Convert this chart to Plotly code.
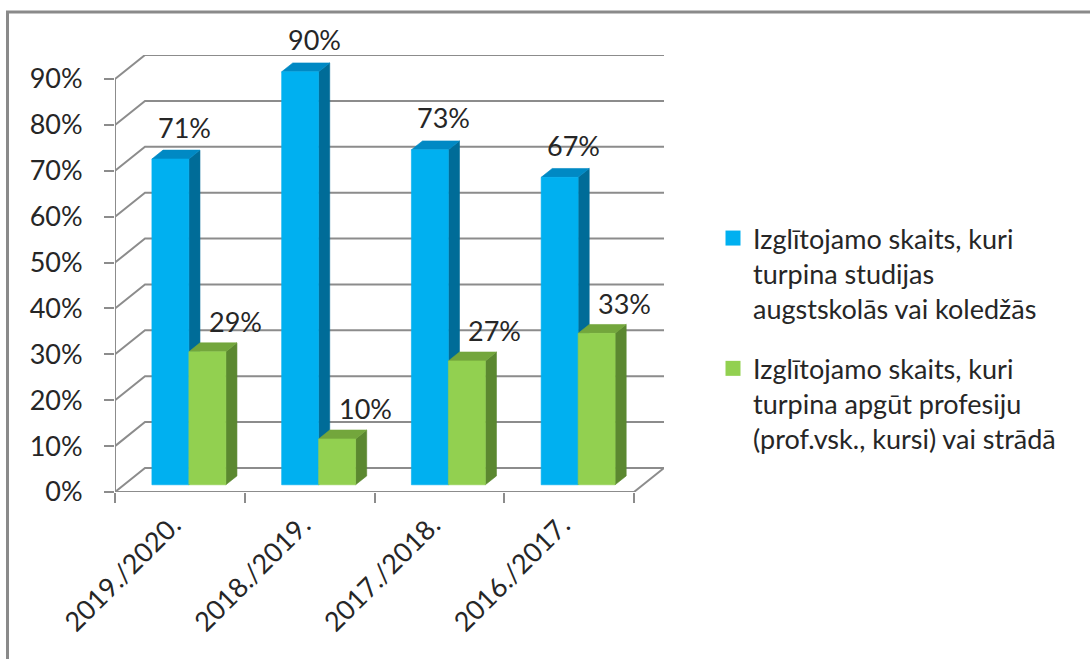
import plotly.graph_objects as go

# ---------------- data ----------------
categories = ["2019./2020.", "2018./2019.", "2017./2018.", "2016./2017."]
studies = [0.71, 0.90, 0.73, 0.67]          # Izglītojamo skaits, kuri turpina studijas ...
profession = [0.29, 0.10, 0.27, 0.33]       # Izglītojamo skaits, kuri turpina apgūt profesiju ...
series_names = [
    "Izglītojamo skaits, kuri<br>turpina studijas<br>augstskolās vai koledžās",
    "Izglītojamo skaits, kuri<br>turpina apgūt profesiju<br>(prof.vsk., kursi) vai strādā",
]
y_tick_vals = [0.0, 0.1, 0.2, 0.3, 0.4, 0.5, 0.6, 0.7, 0.8, 0.9]
y_tick_text = ["0%", "10%", "20%", "30%", "40%", "50%", "60%", "70%", "80%", "90%"]

# ---------------- style / geometry ----------------
W, H = 1090, 659
FONT = "Lato"
TXT = "#262626"
GRID = "#8c8c8c"
FS = 27
PX_CAT = 129.75            # pixels per category
PX_UNIT = 458.5            # pixels per 100 %
DX_PX, DY_PX = 30, 24      # 3-D depth offset of the back wall
DX, DY = DX_PX / PX_CAT, DY_PX / PX_UNIT
F0, F1 = 0.30, 0.67        # depth slice occupied by the bars
BW = 0.285                 # bar width (category units)
ML, MB = 115, 167
plot_w = (4 + DX) * PX_CAT
plot_h = 0.9 * PX_UNIT + DY_PX
MR = W - ML - plot_w
MT = H - MB - plot_h

colors = [
    dict(front="#00B0F0", top="#0089C4", side="#006C98"),
    dict(front="#92D050", top="#73A63C", side="#5B8830"),
]

n = len(categories)
xs = list(range(n))

fig = go.Figure()

# ---- grid (back wall + left wall diagonals) ----
gx, gy = [], []
for v in y_tick_vals:
    gx += [-0.5, -0.5 + DX, n - 0.5 + DX, None]
    gy += [v, v + DY, v + DY, None]
# floor right edge, front base line, front vertical axis
gx += [n - 0.5, n - 0.5 + DX, None, -0.5, n - 0.5, None, -0.5, -0.5, None]
gy += [0, DY, None, 0, 0, None, 0, y_tick_vals[-1], None]
fig.add_trace(go.Scatter(x=gx, y=gy, mode="lines", line=dict(color=GRID, width=2),
                         hoverinfo="skip", showlegend=False, cliponaxis=False))

# ---- 3-D bars ----
sx, sy = F0 * DX, F0 * DY
ex, ey = (F1 - F0) * DX, (F1 - F0) * DY


def add_poly(polys, color):
    px_, py_ = [], []
    for p in polys:
        for (a, b) in p:
            px_.append(a)
            py_.append(b)
        px_.append(p[0][0]); py_.append(p[0][1])
        px_.append(None); py_.append(None)
    fig.add_trace(go.Scatter(x=px_, y=py_, mode="lines", fill="toself", fillcolor=color,
                             line=dict(color=color, width=0.6), hoverinfo="skip",
                             showlegend=False, cliponaxis=False))


for s, vals in enumerate([studies, profession]):
    fronts, tops, sides = [], [], []
    for i, v in zip(xs, vals):
        x0 = i - BW + s * BW + sx
        x1 = x0 + BW
        b, t = sy, v + sy
        fronts.append([(x0, b), (x1, b), (x1, t), (x0, t)])
        tops.append([(x0, t), (x1, t), (x1 + ex, t + ey), (x0 + ex, t + ey)])
        sides.append([(x1, b), (x1 + ex, b + ey), (x1 + ex, t + ey), (x1, t)])
    add_poly(sides, colors[s]["side"])
    add_poly(tops, colors[s]["top"])
    add_poly(fronts, colors[s]["front"])

# ---- legend entries ----
for s in range(2):
    fig.add_trace(go.Scatter(x=[None], y=[None], mode="markers", name=series_names[s],
                             legendgroup=f"g{s}",
                             marker=dict(symbol="square", size=15, color=colors[s]["front"])))

# ---- data labels ----
label_xshift = [14, 28]
for s, vals in enumerate([studies, profession]):
    for i, v in zip(xs, vals):
        xc = i - BW / 2 + s * BW + sx
        fig.add_annotation(x=xc, y=v + sy, text=f"{round(v * 100)}%", showarrow=False,
                           xshift=label_xshift[s], yshift=30 if s else 32, yanchor="middle",
                           font=dict(family=FONT, size=FS, color=TXT))

# ---- chart border (left + top) ----
def xp(p):
    return (p - ML) / plot_w


def yp(p):
    return (H - MB - p) / plot_h


fig.add_shape(type="line", xref="paper", yref="paper", x0=xp(7.5), x1=xp(7.5),
              y0=yp(12.5), y1=yp(H + 5), line=dict(color="#8a8a8a", width=3))
fig.add_shape(type="line", xref="paper", yref="paper", x0=xp(6), x1=xp(W + 5),
              y0=yp(12.5), y1=yp(12.5), line=dict(color="#8a8a8a", width=3))

fig.update_layout(
    width=W, height=H,
    margin=dict(l=ML, r=MR, t=MT, b=MB, pad=0, autoexpand=False),
    paper_bgcolor="white", plot_bgcolor="white",
    font=dict(family=FONT, size=FS, color=TXT),
    showlegend=True,
    legend=dict(xref="container", yref="container", x=713 / W, y=1 - 214 / H,
                xanchor="left", yanchor="top", valign="top",
                font=dict(family=FONT, size=27, color=TXT), tracegroupgap=22,
                bgcolor="rgba(0,0,0,0)"),
    xaxis=dict(range=[-0.5, n - 0.5 + DX], tickvals=xs, ticktext=categories,
               tickangle=-45, ticks="", showgrid=False, zeroline=False, showline=False,
               automargin=False, ticklabelstandoff=11, ticklabelshift=-7,
               tickfont=dict(family=FONT, size=FS, color=TXT),
               minor=dict(tickvals=[i - 0.5 for i in range(n + 1)], ticks="outside",
                          ticklen=10, tickwidth=2, tickcolor=GRID, showgrid=False)),
    yaxis=dict(range=[0, 0.9 + DY], tickvals=y_tick_vals, ticktext=y_tick_text,
               ticks="outside", ticklen=10, tickwidth=2, tickcolor=GRID,
               showgrid=False, zeroline=False, showline=False, automargin=False,
               ticklabelstandoff=16, tickfont=dict(family=FONT, size=FS, color=TXT)),
)

fig.write_html("out.html", config={"displayModeBar": False},
               post_script="document.body.style.margin='0';")
